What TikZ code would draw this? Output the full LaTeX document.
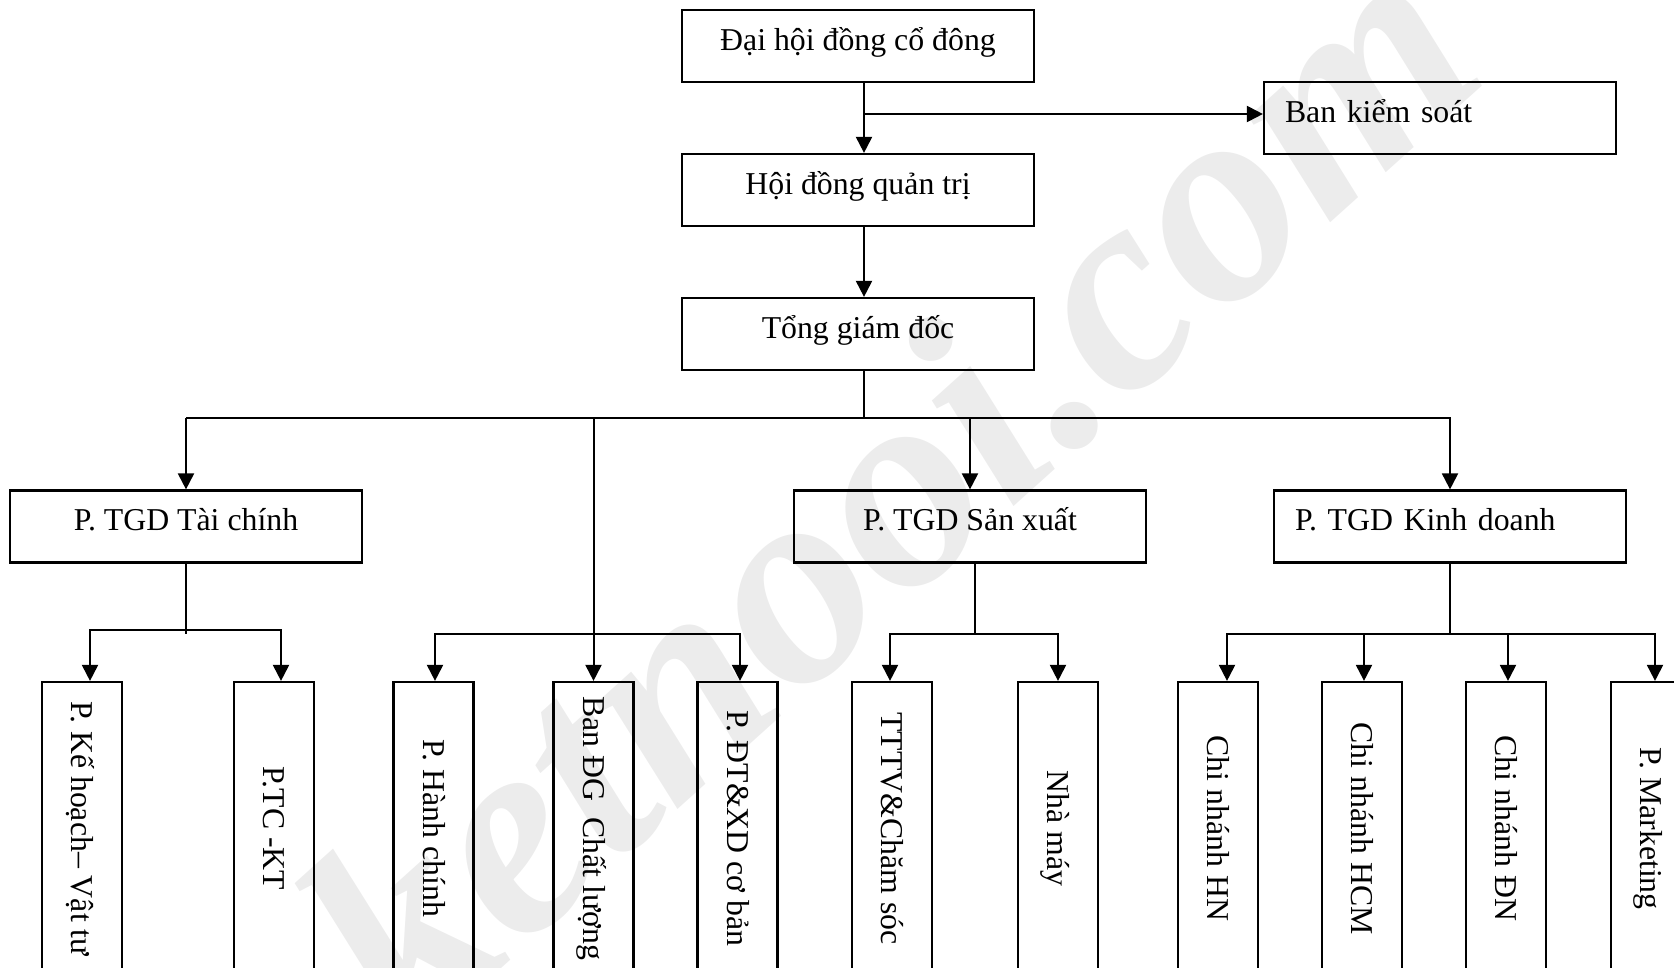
\documentclass[tikz,border=0pt]{standalone}
\usepackage{fontspec}
\setmainfont{Liberation Serif}
\usetikzlibrary{arrows.meta,calc}

\begin{document}
\begin{tikzpicture}[x=0.5pt,y=-0.5pt,
  ln/.style={line width=1pt,line cap=rect},
  arr/.style={line width=1pt,-{Triangle[length=8pt,width=8pt]}},
  box/.style={draw,line width=1.1pt,rectangle,inner sep=0pt,
    minimum width=176pt,minimum height=36pt,
    font=\fontsize{15.9pt}{18pt}\selectfont,
    text height=11.1pt,text depth=7pt},
  leftbox/.style={box,inner xsep=10.5pt,text width=155pt,align=left},
  vbox/.style={draw,line width=1.1pt,rectangle,inner sep=0pt,rotate=-90,
    minimum width=146.5pt,minimum height=40pt,
    font=\fontsize{15.9pt}{18pt}\selectfont,
    text height=10.5pt,text depth=0pt},
  wm/.style={text=gray!15,inner sep=0pt,
    font=\fontsize{145pt}{145pt}\selectfont\bfseries\itshape}
]
\useasboundingbox (0,0) rectangle (1674,968);
\clip (0,0) rectangle (1674,968);

% watermark behind the chart
\node[wm,rotate=42,anchor=base west] (wmark) at (410,1051) {ketnooi.com};

% upper levels
\node[box] (dh)   at (858,46)  {Đại hội đồng cổ đông};
\node[leftbox] (bks) at (1440,118) {Ban kiểm soát};
\node[box] (hdqt) at (858,190) {Hội đồng quản trị};
\node[box] (tgd)  at (858,334) {Tổng giám đốc};

% deputy directors
\node[box] (tc) at (186,526.5)  {P. TGD Tài chính};
\node[box] (sx) at (970,526.5)  {P. TGD Sản xuất};
\node[leftbox] (kd) at (1450,526.5) {P. TGD Kinh doanh};

% departments (vertical boxes, top edge is the west anchor)
\node[vbox] (b1)  at (82,828.5)   {P. Kế hoạch– Vật tư};
\node[vbox] (b2)  at (274,828.5)  {P.TC -KT};
\node[vbox] (b3)  at (433.5,828.5){P. Hành chính};
\node[vbox] (b4)  at (593.5,828.5){Ban ĐG\ \ Chất lượng};
\node[vbox] (b5)  at (737.5,828.5){P. ĐT\&XD cơ bản};
\node[vbox] (b6)  at (892,828.5)  {TTTV\&Chăm sóc};
\node[vbox] (b7)  at (1058,828.5) {Nhà máy};
\node[vbox] (b8)  at (1218,828.5) {Chi nhánh HN};
\node[vbox] (b9)  at (1362,828.5) {Chi nhánh HCM};
\node[vbox] (b10) at (1506,828.5) {Chi nhánh ĐN};
\node[vbox] (b11) at (1651,828.5) {P. Marketing};

% top spine
\coordinate (spine) at (864,0);
\coordinate (j1) at (864,114);
\draw[arr] (dh.south -| spine) -- (hdqt.north -| spine);
\draw[arr] (j1) -- (j1 -| bks.west);
\draw[arr] (hdqt.south -| spine) -- (tgd.north -| spine);

% main bus
\coordinate (busL) at (187,418);
\coordinate (busR) at (1450,418);
\draw[ln] (tgd.south -| spine) -- (spine |- busL);
\draw[ln] (busL) -- (busR);
\draw[arr] (tc.north |- busL) -- (tc.north);
\draw[arr] (b4.west |- busL) -- (b4.west);
\draw[arr] (sx.north |- busL) -- (sx.north);
\draw[arr] (kd.north |- busL) -- (kd.north);

% finance branch
\coordinate (f0) at (186,633);
\coordinate (t1) at (90,630);
\coordinate (t2) at (281,630);
\draw[ln] (tc.south) -- (f0);
\draw[ln] (t1) -- (t2);
\draw[arr] (t1) -- (t1 |- b1.west);
\draw[arr] (t2) -- (t2 |- b2.west);

% direct departments
\coordinate (m1) at (435,634);
\coordinate (m3) at (740,634);
\draw[ln] (m1) -- (m3);
\draw[arr] (m1) -- (m1 |- b3.west);
\draw[arr] (m3) -- (m3 |- b5.west);

% production branch
\coordinate (s0) at (975,634);
\coordinate (p1) at (890,634);
\coordinate (p2) at (1058,634);
\draw[ln] (s0 |- sx.south) -- (s0);
\draw[ln] (p1) -- (p2);
\draw[arr] (p1) -- (p1 |- b6.west);
\draw[arr] (p2) -- (p2 |- b7.west);

% business branch
\coordinate (k1) at (1227,634);
\coordinate (k2) at (1364,634);
\coordinate (k3) at (1508,634);
\coordinate (k4) at (1655,634);
\draw[ln] (kd.south) -- (kd.south |- k1);
\draw[ln] (k1) -- (k4);
\draw[arr] (k1) -- (k1 |- b8.west);
\draw[arr] (k2) -- (k2 |- b9.west);
\draw[arr] (k3) -- (k3 |- b10.west);
\draw[arr] (k4) -- (k4 |- b11.west);
\end{tikzpicture}
\end{document}
